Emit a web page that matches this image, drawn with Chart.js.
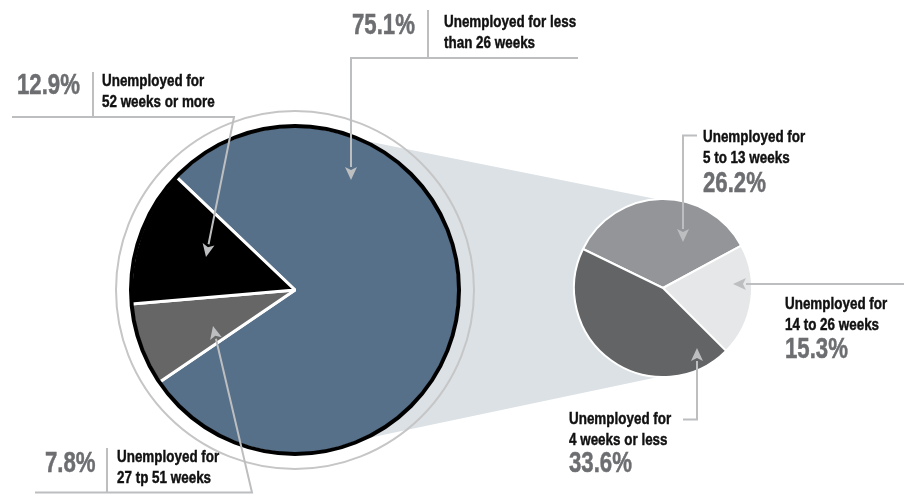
<!DOCTYPE html>
<html>
<head>
<meta charset="utf-8">
<script src="https://cdn.jsdelivr.net/npm/chart.js@4"></script>
<style>
body{margin:0;background:#fff;width:904px;height:495px;overflow:hidden;position:relative;
  font-family:"Liberation Sans",Arial,sans-serif}
canvas{position:absolute;left:0;top:0}
.lbl{position:absolute;font-weight:bold;font-size:17px;line-height:21px;color:#111;white-space:pre;
  -webkit-text-stroke:0.45px #111;transform:scaleX(0.79);transform-origin:0 0}
.num{position:absolute;font-weight:bold;font-size:30px;line-height:30px;color:#6d6e71;white-space:pre;
  -webkit-text-stroke:0.5px #6d6e71;transform:scaleX(0.74);transform-origin:0 0}
</style>
</head>
<body>
<canvas id="bigChart" width="904" height="495"></canvas>
<canvas id="smallChart" width="904" height="495"></canvas>
<div id="labels"></div>
<script>
// big pie: all unemployed
const bigLabels = ['Unemployed for less\nthan 26 weeks', 'Unemployed for\n27 tp 51 weeks', 'Unemployed for\n52 weeks or more'];
const bigValues = [75.1, 7.8, 12.9];
const bigColors = ['#57708a', '#666666', '#000000'];

// small pie: breakdown of "less than 26 weeks"
const smallLabels = ['Unemployed for\n5 to 13 weeks', 'Unemployed for\n14 to 26 weeks', 'Unemployed for\n4 weeks or less'];
const smallValues = [26.2, 15.3, 33.6];
const smallColors = ['#939598', '#e6e7e8', '#636466'];

const W = 904, H = 495;
const pad = (cx, cy, half) => ({left: cx - half, right: W - cx - half, top: cy - half, bottom: H - cy - half});

// label placement (number box, text box)
const bigPos = [
  {num: [352, 9], txt: [444, 11]},
  {num: [45, 446.5], txt: [117, 446]},
  {num: [17, 69], txt: [102, 69.5]}
];
const smallPos = [
  {txt: [703, 126], num: [703, 166.5]},
  {txt: [785, 293], num: [785, 333]},
  {txt: [569, 408], num: [569, 446.5]}
];

// leader lines, last point is the arrow tip
const leaders = [
  [[578, 58], [351, 58], [351, 180]],
  [[35, 492.5], [252, 492.5], [213, 326]],
  [[12, 117], [234, 117], [206, 257]],
  [[697, 135.5], [683, 135.5], [683, 242]],
  [[904, 284], [733, 284]],
  [[683, 419.5], [697, 419.5], [697, 348]]
];
const dividers = [[428, 10, 58], [107, 448, 492], [93, 72, 117]];

const lineGray = '#bcbec0';

const arrows = {
  id: 'arrows',
  afterDraw(chart) {
    const ctx = chart.ctx;
    ctx.save();
    ctx.strokeStyle = lineGray;
    ctx.fillStyle = lineGray;
    ctx.lineWidth = 2;
    dividers.forEach(d => {
      ctx.beginPath();
      ctx.moveTo(d[0], d[1]);
      ctx.lineTo(d[0], d[2]);
      ctx.stroke();
    });
    leaders.forEach(pts => {
      const tip = pts[pts.length - 1];
      const prev = pts[pts.length - 2];
      const ang = Math.atan2(tip[1] - prev[1], tip[0] - prev[0]);
      const len = 13, half = 6;
      const bx = tip[0] - len * Math.cos(ang), by = tip[1] - len * Math.sin(ang);
      ctx.beginPath();
      ctx.moveTo(pts[0][0], pts[0][1]);
      for (let i = 1; i < pts.length - 1; i++) ctx.lineTo(pts[i][0], pts[i][1]);
      ctx.lineTo(bx, by);
      ctx.stroke();
      ctx.beginPath();
      ctx.moveTo(tip[0], tip[1]);
      ctx.lineTo(bx + half * Math.sin(ang), by - half * Math.cos(ang));
      ctx.lineTo(bx + 3 * Math.cos(ang), by + 3 * Math.sin(ang));
      ctx.lineTo(bx - half * Math.sin(ang), by + half * Math.cos(ang));
      ctx.closePath();
      ctx.fill();
    });
    ctx.restore();
  }
};

const smallChart = new Chart(document.getElementById('smallChart'), {
  type: 'pie',
  data: {
    labels: smallLabels,
    datasets: [{
      data: smallValues,
      backgroundColor: smallColors,
      borderColor: '#ffffff',
      borderWidth: 2
    }]
  },
  options: {
    responsive: false,
    animation: false,
    events: [],
    rotation: -64,
    radius: 89,
    layout: {padding: pad(663, 288, 100)},
    plugins: {legend: {display: false}, tooltip: {enabled: false}}
  },
  plugins: [arrows]
});

// grey band joining the two pies + outlines of the big pie
const bridge = {
  id: 'bridge',
  beforeDatasetsDraw(chart) {
    const a = chart.getDatasetMeta(0).data[0];
    const b = smallChart.getDatasetMeta(0).data[0];
    const R = a.outerRadius - 4, r = b.outerRadius - 3;
    const dx = b.x - a.x, dy = b.y - a.y;
    const d = Math.hypot(dx, dy);
    const base = Math.atan2(dy, dx);
    const phi = Math.acos((R - r) / d);
    const ctx = chart.ctx;
    ctx.save();
    ctx.fillStyle = '#dce1e5';
    ctx.beginPath();
    ctx.moveTo(a.x + R * Math.cos(base - phi), a.y + R * Math.sin(base - phi));
    ctx.lineTo(b.x + r * Math.cos(base - phi), b.y + r * Math.sin(base - phi));
    ctx.lineTo(b.x + r * Math.cos(base + phi), b.y + r * Math.sin(base + phi));
    ctx.lineTo(a.x + R * Math.cos(base + phi), a.y + R * Math.sin(base + phi));
    ctx.closePath();
    ctx.fill();
    ctx.restore();
  },
  afterDatasetsDraw(chart) {
    const a = chart.getDatasetMeta(0).data[0];
    const ctx = chart.ctx;
    ctx.save();
    ctx.strokeStyle = '#000';
    ctx.lineWidth = 4;
    ctx.beginPath();
    ctx.arc(a.x, a.y, a.outerRadius, 0, Math.PI * 2);
    ctx.stroke();
    ctx.strokeStyle = '#c6c6c6';
    ctx.lineWidth = 2;
    ctx.beginPath();
    ctx.arc(a.x, a.y, a.outerRadius + 15, 0, Math.PI * 2);
    ctx.stroke();
    ctx.restore();
  }
};

new Chart(document.getElementById('bigChart'), {
  type: 'pie',
  data: {
    labels: bigLabels,
    datasets: [{
      data: bigValues,
      backgroundColor: bigColors,
      borderColor: '#ffffff',
      borderWidth: 3
    }]
  },
  options: {
    responsive: false,
    animation: false,
    events: [],
    rotation: -46.4,
    radius: 164,
    layout: {padding: pad(295, 290, 180)},
    plugins: {legend: {display: false}, tooltip: {enabled: false}}
  },
  plugins: [bridge]
});

// text labels
const box = document.getElementById('labels');
const addText = (cls, text, xy) => {
  const el = document.createElement('div');
  el.className = cls;
  el.textContent = text;
  el.style.left = xy[0] + 'px';
  el.style.top = xy[1] + 'px';
  box.appendChild(el);
};
bigLabels.forEach((t, i) => {
  addText('num', bigValues[i].toFixed(1) + '%', bigPos[i].num);
  addText('lbl', t, bigPos[i].txt);
});
smallLabels.forEach((t, i) => {
  addText('lbl', t, smallPos[i].txt);
  addText('num', smallValues[i].toFixed(1) + '%', smallPos[i].num);
});
</script>
</body>
</html>
